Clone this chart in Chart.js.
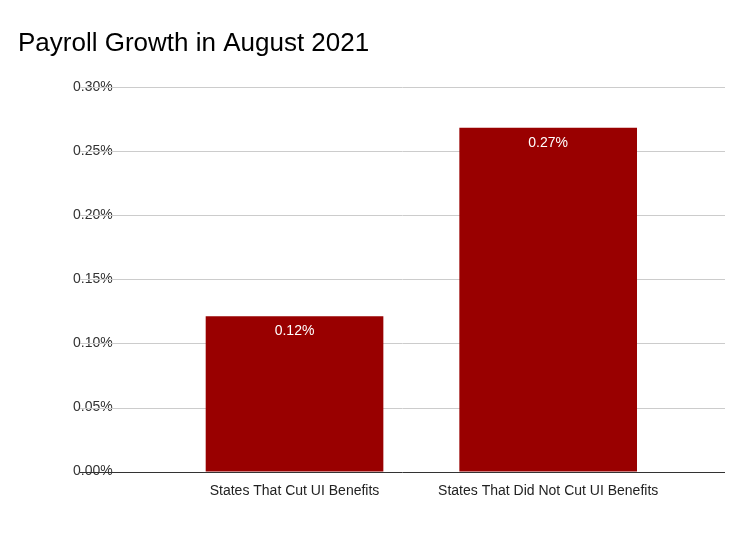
<!DOCTYPE html><html><head><script src="https://cdn.jsdelivr.net/npm/chart.js@4"></script>
<style>body{margin:0;background:#fff}#w{width:751px;height:535px}</style></head><body><div id="w"><canvas id="c"></canvas></div>
<script>
const categories=['States That Cut UI Benefits','States That Did Not Cut UI Benefits'];
const values=[0.121,0.268];
const labels=['0.12%','0.27%'];
const GL=80,GR=725;
const grid={id:'grid',beforeDatasetsDraw(ch){const y=ch.scales.y,x=ch.ctx;x.save();y.ticks.forEach(t=>{const p=Math.round(y.getPixelForValue(t.value))+0.5;x.strokeStyle=t.value===0?'#333':'#ccc';x.lineWidth=1;x.beginPath();x.moveTo(GL,p);x.lineTo(GR,p);x.stroke();});x.restore();}};
const valueLabels={id:'vl',afterDatasetsDraw(ch){const m=ch.getDatasetMeta(0),x=ch.ctx;x.save();x.fillStyle='#fff';x.font='14px Arial, "Liberation Sans"';x.textAlign='center';x.textBaseline='top';m.data.forEach((b,i)=>x.fillText(labels[i],b.x,b.y+8));x.restore();}};
new Chart(document.getElementById('c'),{type:'bar',data:{labels:categories,datasets:[{data:values,backgroundColor:'#990000',barThickness:177}]},
options:{responsive:true,maintainAspectRatio:false,animation:false,layout:{padding:{left:18,right:76,top:0,bottom:20}},
plugins:{legend:{display:false},tooltip:{enabled:false},title:{display:true,text:'Payroll Growth in August 2021',align:'start',color:'#000',font:{size:26,family:'Arial, "Liberation Sans"',weight:'normal'},padding:{top:28,bottom:28}}},
scales:{x:{ticks:{color:'#222',font:{size:14,family:'Arial, "Liberation Sans"'},maxRotation:0},grid:{display:false},border:{display:false}},
y:{min:0,max:0.3,ticks:{stepSize:0.05,callback:v=>v.toFixed(2)+'%',color:'#333',font:{size:14,family:'Arial, "Liberation Sans"'},padding:55},grid:{display:false,drawTicks:false},border:{display:false}}}},plugins:[grid,valueLabels]});
</script></body></html>
